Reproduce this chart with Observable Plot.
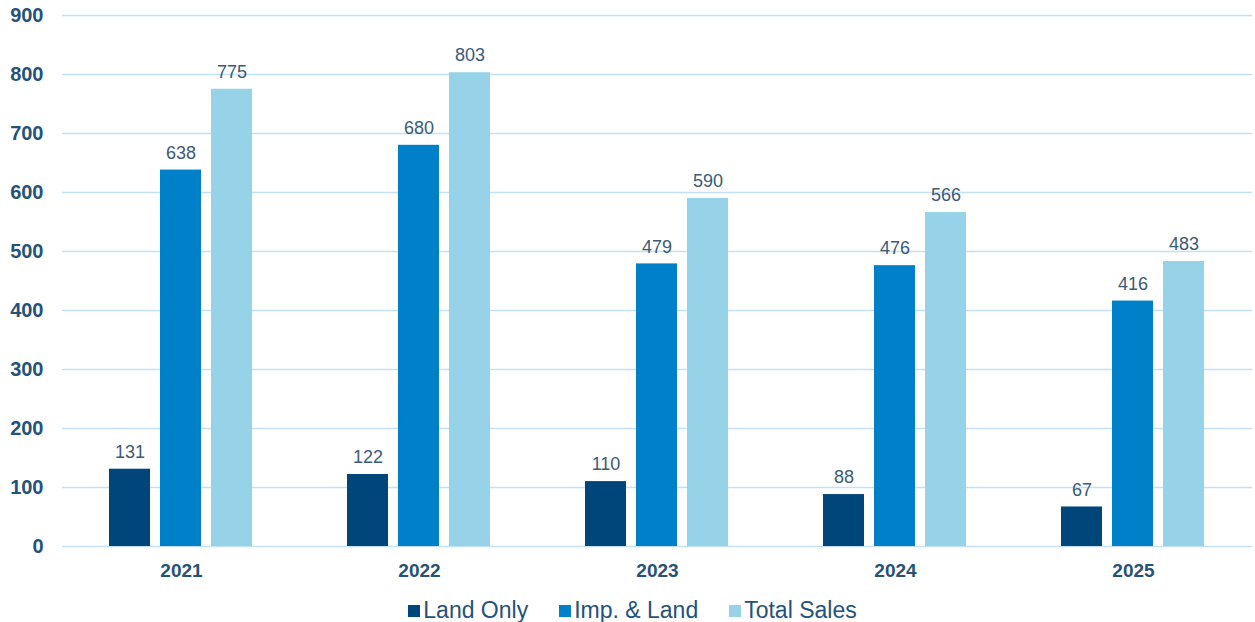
<!DOCTYPE html>
<html>
<head>
<meta charset="utf-8">
<script src="https://cdn.jsdelivr.net/npm/d3@7"></script>
<script src="https://cdn.jsdelivr.net/npm/@observablehq/plot@0.6"></script>
<style>
  body { margin: 0; background: #fff; font-family: "Liberation Sans", Arial, sans-serif; }
  #legend { display: flex; justify-content: center; gap: 31px; font-size: 23px; color: #24527a; margin-top: 1px; padding-left: 10px; line-height: 28px; }
  #legend span.sw { display: inline-block; width: 12px; height: 12px; margin-right: 3px; vertical-align: 1px; }
</style>
</head>
<body>
<div id="chart"></div>
<div id="legend"></div>
<script>
const years = ["2021", "2022", "2023", "2024", "2025"];
const seriesNames = ["Land Only", "Imp. & Land", "Total Sales"];
const landOnly = [131, 122, 110, 88, 67];
const impLand = [638, 680, 479, 476, 416];
const totalSales = [775, 803, 590, 566, 483];
const colors = ["#00467a", "#0080c8", "#96d3e8"];
const yTicks = [0, 100, 200, 300, 400, 500, 600, 700, 800, 900];

const seriesValues = [landOnly, impLand, totalSales];
const data = [];
years.forEach((y, i) => {
  seriesNames.forEach((s, j) => data.push({year: y, series: s, value: seriesValues[j][i]}));
});

const chart = Plot.plot({
  width: 1255,
  height: 595,
  marginLeft: 61,
  marginRight: 2,
  marginTop: 15,
  marginBottom: 49,
  style: {fontFamily: "Liberation Sans, Arial, sans-serif"},
  fx: {domain: years, padding: 0, label: null},
  x: {domain: seriesNames, paddingInner: 0.19, paddingOuter: 0.89, axis: null},
  y: {domain: [0, 900], ticks: yTicks, label: null},
  color: {domain: seriesNames, range: colors},
  marks: [
    Plot.gridY(yTicks, {stroke: "#c3e1f6", strokeOpacity: 1, strokeWidth: 1.5}),
    Plot.axisY(yTicks, {tickSize: 0, tickPadding: 19, fontSize: 20, fontWeight: "bold", fill: "#24527a"}),
    Plot.axisFx({anchor: "bottom", tickSize: 0, tickPadding: 17, fontSize: 19, fontWeight: "bold", fill: "#24527a", label: null}),
    Plot.barY(data, {fx: "year", x: "series", y: "value", fill: "series"}),
    Plot.text(data, {fx: "year", x: "series", y: "value", text: d => String(d.value), dy: -17, fontSize: 18, fill: "#3a5a78"})
  ]
});
document.getElementById("chart").appendChild(chart);

const legend = document.getElementById("legend");
seriesNames.forEach((s, i) => {
  const item = document.createElement("div");
  item.innerHTML = `<span class="sw" style="background:${colors[i]}"></span>${s}`;
  legend.appendChild(item);
});
</script>
</body>
</html>
